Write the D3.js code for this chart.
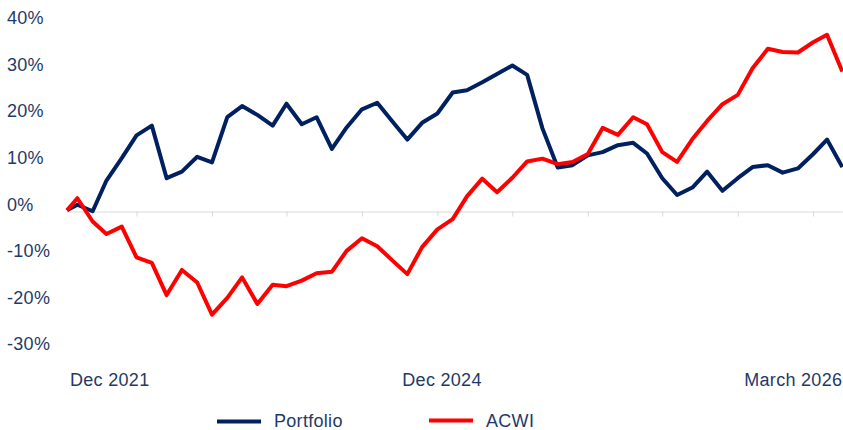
<!DOCTYPE html>
<html><head><meta charset="utf-8">
<script src="https://cdn.jsdelivr.net/npm/d3@7"></script>
<style>html,body{margin:0;padding:0;background:#fff;} svg{display:block;}</style>
</head><body><svg id="c" width="843" height="430"></svg>
<script>
// ---- data ----
const dates = [
  "2021-12-10","2021-12-31",
  "2022-01-31","2022-02-28","2022-03-31","2022-04-30","2022-05-31","2022-06-30","2022-07-31","2022-08-31","2022-09-30","2022-10-31","2022-11-30","2022-12-31",
  "2023-01-31","2023-02-28","2023-03-31","2023-04-30","2023-05-31","2023-06-30","2023-07-31","2023-08-31","2023-09-30","2023-10-31","2023-11-30","2023-12-31",
  "2024-01-31","2024-02-29","2024-03-31","2024-04-30","2024-05-31","2024-06-30","2024-07-31","2024-08-31","2024-09-30","2024-10-31","2024-11-30","2024-12-31",
  "2025-01-31","2025-02-28","2025-03-31","2025-04-30","2025-05-31","2025-06-30","2025-07-31","2025-08-31","2025-09-30","2025-10-31","2025-11-30","2025-12-31",
  "2026-01-31","2026-02-28","2026-03-31"
];
const portfolio = [
  0.3, 1.5, 0.1, 6.7, 11.5, 16.4, 18.5, 7.2, 8.6, 11.8, 10.6, 20.3, 22.7, 20.8, 18.5,
  23.2, 18.8, 20.3, 13.5, 18.1, 22.0, 23.4, 19.5, 15.5, 19.1, 21.1, 25.6, 26.1, 27.8,
  29.6, 31.4, 29.4, 17.9, 9.5, 10.0, 12.1, 12.8, 14.3, 14.8, 12.5, 7.2, 3.6, 5.2, 8.6,
  4.5, 7.2, 9.6, 10.0, 8.4, 9.3, 12.4, 15.5, 9.6
];
const acwi = [
  0.3, 2.9, -2.1, -4.8, -3.2, -9.8, -11.0, -17.9, -12.5, -15.2, -22.1, -18.5, -14.1, -19.8, -15.7,
  -16.0, -14.8, -13.2, -12.9, -8.4, -5.7, -7.4, -10.4, -13.4, -7.6, -3.8, -1.6, 3.3, 7.1,
  4.2, 7.3, 10.8, 11.4, 10.2, 10.7, 12.4, 18.0, 16.5, 20.3, 18.8, 12.8, 10.7, 15.6, 19.5,
  23.1, 25.1, 30.8, 35.0, 34.3, 34.2, 36.4, 38.0, 30.1
];
const yTicks = [-30, -20, -10, 0, 10, 20, 30, 40];
const xLabels = ["Dec 2021", "Dec 2024", "March 2026"];
const seriesNames = ["Portfolio", "ACWI"];

// ---- styles ----
const COL_PORT = "#002060", COL_ACWI = "#FF0000", COL_TEXT = "#1F3A68", COL_AXIS = "#D9D9D9";
const FONT = "'Liberation Sans', Arial, sans-serif";

const svg = d3.select("#c");
const parse = d3.utcParse("%Y-%m-%d");
const dts = dates.map(parse);

const x = d3.scaleUtc().domain([dts[0], dts[dts.length - 1]]).range([67, 842.3]);
const y = d3.scaleLinear().domain([-30, 40]).range([351.4, 25.5]);

// y labels (left aligned)
svg.append("g").selectAll("text").data(yTicks).join("text")
  .attr("x", 7).attr("y", d => y(d) - 1.2)
  .attr("font-family", FONT).attr("font-size", 18).attr("letter-spacing", 0.3)
  .attr("fill", COL_TEXT)
  .text(d => d + "%");

// x axis at zero
const tickDates = dts.filter((d, i) => i >= 5 && (i - 5) % 5 === 0);
const ax = svg.append("g")
  .attr("transform", `translate(0,${Math.floor(y(0)) + 0.5})`)
  .call(d3.axisBottom(x).tickValues(tickDates).tickSize(5).tickSizeOuter(0).tickFormat(""));
ax.select(".domain").attr("stroke", COL_AXIS);
ax.selectAll(".tick line").attr("stroke", COL_AXIS);

// x labels
const xl = svg.append("g").attr("font-family", FONT).attr("font-size", 18)
  .attr("letter-spacing", 0.3).attr("fill", COL_TEXT);
xl.append("text").attr("x", x.range()[0] + 3).attr("y", 386).attr("text-anchor", "start").text(xLabels[0]);
xl.append("text").attr("x", 442).attr("y", 386).attr("text-anchor", "middle").text(xLabels[1]);
xl.append("text").attr("x", x.range()[1]).attr("y", 386).attr("text-anchor", "end").text(xLabels[2]);

// lines
const line = d3.line().x((d, i) => x(dts[i])).y(d => y(d));
svg.append("path").datum(portfolio).attr("d", line)
  .attr("fill", "none").attr("stroke", COL_PORT).attr("stroke-width", 4)
  .attr("stroke-linejoin", "round");
svg.append("path").datum(acwi).attr("d", line)
  .attr("fill", "none").attr("stroke", COL_ACWI).attr("stroke-width", 4)
  .attr("stroke-linejoin", "round");

// legend
const leg = [
  {name: seriesNames[0], color: COL_PORT, x: 217, ly: 421.5},
  {name: seriesNames[1], color: COL_ACWI, x: 429, ly: 420.5}
];
const lg = svg.append("g");
leg.forEach(l => {
  lg.append("line").attr("x1", l.x).attr("x2", l.x + 44).attr("y1", l.ly).attr("y2", l.ly)
    .attr("stroke", l.color).attr("stroke-width", 4);
  lg.append("text").attr("x", l.x + 57).attr("y", 426.5)
    .attr("font-family", FONT).attr("font-size", 18).attr("letter-spacing", 0.3)
    .attr("fill", COL_TEXT).text(l.name);
});
</script>
</body></html>
